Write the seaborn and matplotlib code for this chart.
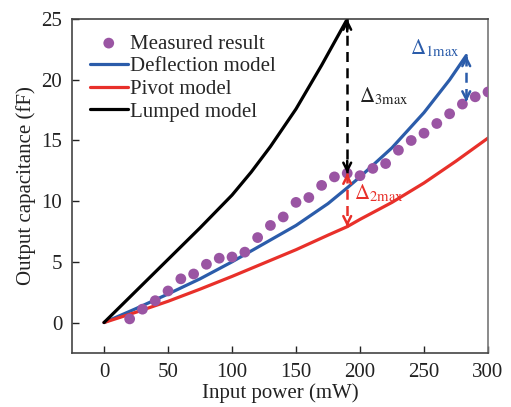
import matplotlib
matplotlib.use("Agg")
import matplotlib.pyplot as plt
import numpy as np
import pandas as pd
import seaborn as sns

# measured points (input power mW, output capacitance fF)
measured_x = [20, 30, 40, 50, 60, 70, 80, 90, 100, 110, 120, 130, 140, 150, 160,
              170, 180, 190, 200, 210, 220, 230, 240, 250, 260, 270, 280, 290, 300]
measured_y = [0.3, 1.1, 1.8, 2.6, 3.6, 4.0, 4.8, 5.3, 5.4, 5.8, 7.0, 8.0, 8.7, 9.9, 10.3,
              11.3, 12.0, 12.3, 12.1, 12.7, 13.1, 14.2, 15.0, 15.6, 16.4, 17.2, 18.0, 18.6, 19.0]

deflection_x = [0, 25, 50, 75, 100, 125, 150, 175, 190, 200, 225, 250, 270, 283]
deflection_y = [0, 1.15, 2.35, 3.6, 5.0, 6.5, 8.0, 9.8, 11.1, 12.0, 14.4, 17.3, 20.0, 22.0]

pivot_x = [0, 25, 50, 75, 100, 125, 150, 175, 190, 200, 225, 250, 275, 300]
pivot_y = [0, 0.85, 1.75, 2.75, 3.8, 4.9, 6.0, 7.2, 7.9, 8.5, 9.9, 11.5, 13.3, 15.2]

lumped_x = [0, 25, 50, 75, 100, 115, 130, 150, 170, 190]
lumped_y = [0, 2.6, 5.2, 7.8, 10.5, 12.4, 14.5, 17.6, 21.2, 25.0]

x_ticks = [0, 50, 100, 150, 200, 250, 300]
y_ticks = [0, 5, 10, 15, 20, 25]

BLUE = "#2b5caa"
RED = "#e8302a"
PURPLE = "#9a55a3"

sns.set_theme(style="ticks")
plt.rcParams["font.family"] = ["Liberation Serif", "DejaVu Serif"]
plt.rcParams["mathtext.fontset"] = "stix"
plt.rcParams["xtick.direction"] = "in"
plt.rcParams["ytick.direction"] = "in"

fig = plt.figure(figsize=(5.11, 4.07), dpi=100)
ax = fig.add_axes([0.141, 0.133, 0.814, 0.820])

sns.scatterplot(x=measured_x, y=measured_y, ax=ax, color=PURPLE, s=60,
                edgecolor="none", label="Measured result", zorder=3)
sns.lineplot(x=deflection_x, y=deflection_y, ax=ax, color=BLUE, lw=2.3,
             label="Deflection model", sort=False)
sns.lineplot(x=pivot_x, y=pivot_y, ax=ax, color=RED, lw=2.3,
             label="Pivot model", sort=False)
sns.lineplot(x=lumped_x, y=lumped_y, ax=ax, color="black", lw=2.3,
             label="Lumped model", sort=False)

# difference arrows
xa = lumped_x[-1]
m_a = np.interp(xa, measured_x, measured_y)
p_a = np.interp(xa, pivot_x, pivot_y)
xb = deflection_x[-1]
m_b = np.interp(xb, measured_x, measured_y)


def dashed_arrow(x, y0, y1, color):
    ax.plot([x, x], [y0, y1], ls=(0, (4, 2.5)), color=color, lw=1.8, zorder=4)
    for a, b in ((y0, y1), (y1, y0)):
        ax.annotate("", xy=(x, b), xytext=(x, b + (a - b) * 0.08),
                    arrowprops=dict(arrowstyle="->", color=color, lw=1.8,
                                    shrinkA=0, shrinkB=0, mutation_scale=14),
                    zorder=5)


dashed_arrow(xa, lumped_y[-1], m_a, "black")
dashed_arrow(xa, m_a, p_a, RED)
dashed_arrow(xb, deflection_y[-1], m_b, BLUE)

ax.text(199, 18.6, r"$\Delta_{\rm 3max}$", fontsize=15, color="#222222", va="center")
ax.text(195, 10.6, r"$\Delta_{\rm 2max}$", fontsize=15, color=RED, va="center")
ax.text(239, 22.6, r"$\Delta_{\rm 1max}$", fontsize=15, color=BLUE, va="center")

ax.set_xlim(-25, 300)
ax.set_ylim(-2.5, 25)
ax.set_xticks(x_ticks)
ax.set_yticks(y_ticks)
ax.tick_params(labelsize=15, length=5, width=1, colors="#222222", pad=7)
ax.set_xlabel("Input power (mW)", fontsize=15, labelpad=1, color="#222222")
ax.set_ylabel("Output capacitance (fF)", fontsize=15, labelpad=4, color="#222222")
for side in ["top", "right", "left", "bottom"]:
    ax.spines[side].set_visible(True)
    ax.spines[side].set_color("#444444")
    ax.spines[side].set_linewidth(1.2)
ax.spines["right"].set_color("#777777")

leg = ax.legend(loc="upper left", bbox_to_anchor=(90 / 511, 1 - 34 / 407),
                bbox_transform=fig.transFigure, frameon=False, fontsize=15,
                borderpad=0, borderaxespad=0, handlelength=1.8,
                handletextpad=0.1, labelspacing=0.15)

fig.savefig("out.png", dpi=100)
